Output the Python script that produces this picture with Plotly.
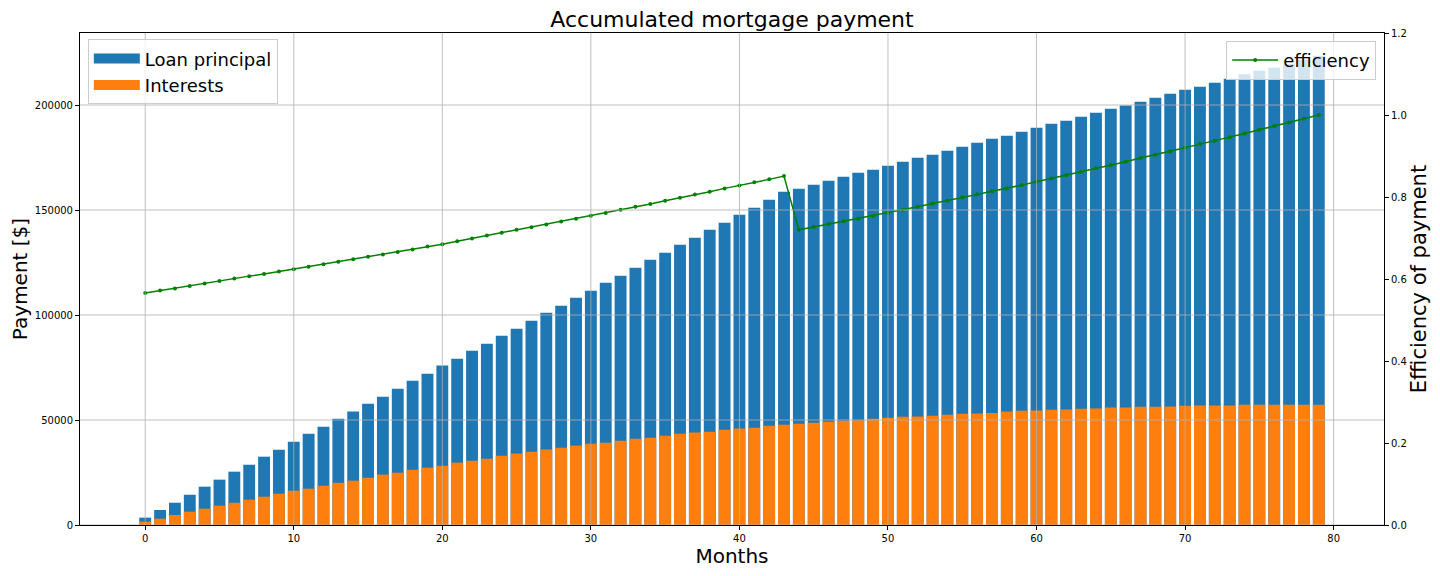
"""Accumulated mortgage payment: principal vs interest bars with payment efficiency."""

import plotly.graph_objects as go

# ------------------------------------------------------------------
# Data
# ------------------------------------------------------------------

months = list(range(80))

total_paid = [
    3500, 7140, 10600, 14400, 18250, 21600, 25400, 28700, 32540, 35870,
    39700, 43500, 46800, 50600, 54000, 57800, 61100, 64900, 68700, 72000,
    75900, 79200, 83000, 86300, 90100, 93500, 97300, 101100, 104400, 108200,
    111600, 115400, 118700, 122500, 126300, 129700, 133500, 136800, 140600, 143900,
    147800, 151100, 154900, 158700, 160100, 162000, 163900, 165900, 167800, 169200,
    171100, 173000, 174900, 176300, 178200, 180100, 182000, 183900, 185400, 187300,
    189200, 191100, 192500, 194400, 196300, 198200, 199800, 201600, 203500, 205400,
    207300, 208700, 210600, 212500, 214600, 216300, 217800, 219600, 221600, 223500,
]

interests = [
    1600, 3000, 4760, 6350, 7780, 9200, 10600, 12060, 13500, 14900,
    16350, 17300, 18700, 20100, 21100, 22500, 24000, 24900, 26300, 27300,
    28200, 29700, 30600, 31600, 33000, 34000, 34900, 35900, 36800, 37800,
    38700, 39200, 40100, 41100, 41600, 42500, 43500, 44000, 44400, 45400,
    45900, 46300, 47300, 47800, 48200, 48700, 49200, 49700, 49900, 50600,
    51100, 51600, 51700, 52000, 52500, 53000, 53100, 53300, 54000, 54400,
    54500, 54900, 55000, 55400, 55500, 55900, 56000, 56300, 56350, 56400,
    56800, 56850, 56900, 56950, 57300, 57300, 57300, 57300, 57300, 57300,
]

efficiency = [
    0.566, 0.572, 0.577, 0.583, 0.589, 0.595, 0.601, 0.607, 0.612, 0.618,
    0.624, 0.630, 0.636, 0.642, 0.648, 0.654, 0.660, 0.666, 0.672, 0.679,
    0.685, 0.692, 0.699, 0.706, 0.713, 0.720, 0.726, 0.733, 0.740, 0.747,
    0.754, 0.761, 0.769, 0.776, 0.783, 0.791, 0.798, 0.806, 0.813, 0.821,
    0.828, 0.836, 0.843, 0.851, 0.720, 0.727, 0.734, 0.741, 0.747, 0.754,
    0.761, 0.769, 0.776, 0.784, 0.791, 0.799, 0.806, 0.814, 0.821, 0.829,
    0.837, 0.845, 0.853, 0.861, 0.870, 0.878, 0.886, 0.895, 0.903, 0.911,
    0.920, 0.929, 0.937, 0.946, 0.955, 0.964, 0.973, 0.982, 0.991, 1.000,
]

x_ticks = [0, 10, 20, 30, 40, 50, 60, 70, 80]
y_ticks = [0, 50000, 100000, 150000, 200000]
y2_ticks = [0.0, 0.2, 0.4, 0.6, 0.8, 1.0, 1.2]

FONT = "DejaVu Sans"
GRID = "#b0b0b0"
BLUE = "#1f77b4"
ORANGE = "#ff7f0e"

# ------------------------------------------------------------------
# Figure
# ------------------------------------------------------------------

fig = go.Figure()

fig.add_trace(
    go.Bar(
        x=months,
        y=total_paid,
        width=0.8,
        name="Loan principal",
        marker=dict(color=BLUE, line_width=0),
        showlegend=False,
    )
)
fig.add_trace(
    go.Bar(
        x=months,
        y=interests,
        width=0.8,
        name="Interests",
        marker=dict(color=ORANGE, line_width=0),
        showlegend=False,
    )
)
fig.add_trace(
    go.Scatter(
        x=months,
        y=efficiency,
        mode="lines+markers",
        name="efficiency",
        line=dict(color="green", width=1.5),
        marker=dict(color="green", size=4),
        yaxis="y2",
        legend="legend2",
    )
)

# legend keys drawn as wide patches, like matplotlib's
for label, colour in [("Loan principal", BLUE), ("Interests", ORANGE)]:
    fig.add_trace(
        go.Scatter(
            x=[None],
            y=[None],
            mode="lines",
            name=label,
            line=dict(color=colour, width=13),
            legend="legend",
            legendgroup=label,
        )
    )

# matplotlib draws the grid over the bars, so use shapes on top
for xv in x_ticks:
    fig.add_vline(x=xv, line_color=GRID, line_width=0.8, layer="above")
for yv in y_ticks:
    fig.add_hline(y=yv, line_color=GRID, line_width=0.8, layer="above")

axis_common = dict(
    showgrid=False,
    zeroline=False,
    showline=True,
    linecolor="black",
    linewidth=1,
    ticks="outside",
    ticklen=4,
    tickcolor="black",
    tickfont=dict(size=10),
    automargin=False,
)

# the page body adds an 8px offset, so the figure is 1424x560
fig.update_layout(
    width=1424,
    height=560,
    margin=dict(l=72, r=48, t=25, b=43, autoexpand=False),
    paper_bgcolor="white",
    plot_bgcolor="white",
    barmode="overlay",
    font=dict(family=FONT, color="black", size=10),
    title=dict(
        text="Accumulated mortgage payment",
        xref="paper",
        x=0.5,
        xanchor="center",
        y=0.979,
        yanchor="middle",
        font=dict(size=22, family=FONT),
    ),
    xaxis=dict(
        range=[-4.39, 83.39],
        tickvals=x_ticks,
        mirror=True,
        title=dict(text="Months", font=dict(size=20), standoff=4),
        **axis_common,
    ),
    yaxis=dict(
        range=[0, 234300],
        tickvals=y_ticks,
        tickformat="d",
        title=dict(text="Payment [$]", font=dict(size=20), standoff=10),
        **axis_common,
    ),
    yaxis2=dict(
        overlaying="y",
        side="right",
        range=[0, 1.2],
        tickvals=y2_ticks,
        tickformat=".1f",
        title=dict(text="Efficiency of payment", font=dict(size=21), standoff=4),
        **axis_common,
    ),
    legend=dict(
        x=0.006,
        y=0.987,
        xanchor="left",
        yanchor="top",
        bgcolor="rgba(255,255,255,0.8)",
        bordercolor="#cccccc",
        borderwidth=1,
        font=dict(size=18),
        traceorder="grouped",
        tracegroupgap=0,
        itemwidth=46,
    ),
    legend2=dict(
        x=0.994,
        y=0.984,
        xanchor="right",
        yanchor="top",
        bgcolor="rgba(255,255,255,0.8)",
        bordercolor="#cccccc",
        borderwidth=1,
        font=dict(size=18),
        itemwidth=46,
    ),
)

fig.write_html("out.html")
